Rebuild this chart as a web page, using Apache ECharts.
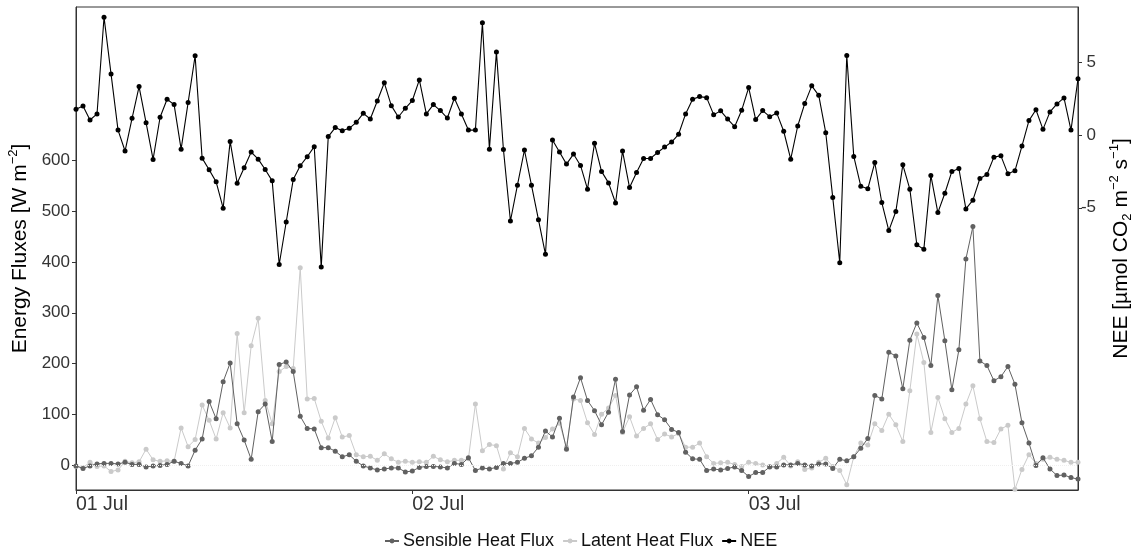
<!DOCTYPE html>
<html><head><meta charset="utf-8">
<script src="https://cdn.jsdelivr.net/npm/echarts@6/dist/echarts.min.js"></script>
<style>html,body{margin:0;padding:0;background:#fff}#c{width:1137px;height:553px}</style>
</head><body><div id="c"></div>
<script>
const dayLabels = ['01 Jul', '02 Jul', '03 Jul'];
const slotsPerDay = 48;
const energyTicks = [0, 100, 200, 300, 400, 500, 600];
const neeTicks = [-5, 0, 5];

const nee = [
  1.77, 2.0, 1.03, 1.45, 8.1, 4.2, 0.34, -1.1, 1.15, 3.33, 0.85, -1.68, 1.22, 2.46, 2.09, -0.97,
  2.23, 5.45, -1.59, -2.39, -3.22, -5.03, -0.44, -3.31, -2.25, -1.17, -1.66, -2.37, -3.15, -8.9, -5.98, -3.06,
  -2.11, -1.49, -0.8, -9.08, -0.11, 0.51, 0.3, 0.46, 0.87, 1.49, 1.1, 2.34, 3.59, 2.02, 1.24, 1.84,
  2.37, 3.79, 1.45, 2.09, 1.68, 1.17, 2.53, 1.45, 0.34, 0.34, 7.72, -0.97, 5.7, -0.99, -5.91, -3.45,
  -1.03, -3.45, -5.82, -8.2, -0.34, -1.17, -2.0, -1.31, -2.09, -3.72, -0.57, -2.5, -3.29, -4.67, -1.1, -3.61,
  -2.57, -1.61, -1.61, -1.2, -0.83, -0.48, 0.05, 1.45, 2.46, 2.64, 2.57, 1.4, 1.66, 1.1, 0.57, 1.7,
  3.26, 1.06, 1.68, 1.26, 1.52, 0.26, -1.66, 0.62, 2.16, 3.38, 2.73, 0.16, -4.3, -8.78, 5.47, -1.47,
  -3.52, -3.7, -1.89, -4.64, -6.57, -5.26, -2.05, -3.72, -7.54, -7.86, -2.78, -5.33, -4.0, -2.5, -2.3, -5.08,
  -4.48, -2.99, -2.71, -1.52, -1.43, -2.67, -2.46, -0.76, 0.99, 1.74, 0.39, 1.59, 2.14, 2.55, 0.34, 3.86
];

const sensible = [
  -2, -7, -2, 2, 3, 3, 2, 5, 1, 1, -4, -2, -1, 1, 7, 3,
  -2, 29, 51, 125, 91, 164, 201, 81, 49, 11, 105, 120, 46, 198, 203, 184,
  96, 72, 71, 34, 34, 27, 16, 20, 7, -2, -6, -10, -8, -6, -6, -14,
  -12, -5, -3, -3, -4, -6, 3, 1, 14, -11, -6, -8, -5, 3, 3, 5,
  13, 18, 35, 67, 55, 92, 31, 134, 172, 127, 107, 79, 104, 169, 66, 138,
  154, 108, 129, 99, 89, 70, 64, 25, 12, 11, -11, -8, -10, -7, -4, -11,
  -23, -15, -15, -4, -4, 0, 0, 3, 0, -2, 2, 2, -7, 11, 8, 16,
  33, 52, 137, 130, 222, 215, 150, 246, 280, 251, 196, 334, 245, 148, 227, 406,
  470, 205, 196, 166, 174, 194, 159, 83, 43, -1, 14, -8, -21, -20, -25, -28
];

const latent = [
  -3, -5, 5, -3, -2, -13, -10, 7, 4, 6, 31, 10, 7, 8, 7, 73,
  36, 50, 118, 88, 51, 103, 73, 259, 103, 235, 289, 127, 81, 184, 194, 190,
  389, 130, 131, 86, 53, 93, 55, 58, 20, 16, 17, 9, 22, 12, 5, 7,
  5, 6, 5, 17, 10, 6, 9, 9, 12, 120, 28, 40, 38, -8, 24, 16,
  72, 51, 43, 54, 71, 82, 35, 130, 127, 83, 60, 100, 112, 137, 64, 95,
  57, 72, 81, 50, 61, 55, 62, 35, 35, 43, 16, 3, 4, 5, 1, -3,
  5, 3, 0, -3, 3, 15, -2, 6, -9, -6, 5, 13, -3, -11, -39, 16,
  43, 39, 81, 68, 100, 79, 46, 146, 258, 202, 64, 133, 91, 64, 72, 120,
  156, 91, 46, 44, 71, 78, -48, -9, 20, 3, 11, 15, 11, 9, 5, 5
];

const categories = [];
dayLabels.forEach(function (d) {
  for (let h = 0; h < slotsPerDay; h++) {
    const hh = String(Math.floor(h / 2)).padStart(2, '0');
    categories.push(d + ' ' + hh + ':' + (h % 2 ? '30' : '00'));
  }
});

const FONT = 'Liberation Sans, Arial, Helvetica, sans-serif';
const isDayStart = function (i) { return i % slotsPerDay === 0; };

const chart = echarts.init(document.getElementById('c'), null, { renderer: 'canvas' });
chart.setOption({
  animation: false,
  backgroundColor: '#ffffff',
  textStyle: { fontFamily: FONT },
  grid: {
    left: 76, right: 59, top: 7, bottom: 63,
    outerBoundsMode: 'none', containLabel: false,
    show: true, borderColor: '#333', borderWidth: 1, backgroundColor: 'transparent'
  },
  legend: {
    data: ['Sensible Heat Flux', 'Latent Heat Flux', 'NEE'],
    left: 379, top: 527,
    itemWidth: 14, itemHeight: 6, itemGap: 8,
    textStyle: { fontFamily: FONT, fontSize: 18, color: '#111', padding: [0, 0, 0, -1] }
  },
  xAxis: {
    type: 'category',
    data: categories,
    boundaryGap: false,
    axisLine: { show: true, onZero: false, lineStyle: { color: '#333', width: 1 } },
    axisTick: { show: true, interval: isDayStart, length: 4, lineStyle: { color: '#333' } },
    axisLabel: {
      interval: isDayStart,
      formatter: function (v) { return v.slice(0, 6); },
      align: 'left', fontSize: 19.5, color: '#333', margin: 5, fontFamily: FONT
    },
    splitLine: { show: false }
  },
  yAxis: [
    {
      type: 'value', position: 'left', min: -49.5, max: 903,
      splitLine: { show: false },
      axisLine: { show: true, onZero: false, lineStyle: { color: '#333', width: 1 } },
      axisTick: { show: true, length: 4, customValues: energyTicks, lineStyle: { color: '#333' } },
      axisLabel: { customValues: energyTicks, fontSize: 17, color: '#333', margin: 6, fontFamily: FONT },
      name: '{t|Energy Fluxes [W m}{s|−2}{t|]}',
      nameLocation: 'middle', nameGap: 34,
      nameTextStyle: {
        rich: {
          t: { fontSize: 21, fontFamily: FONT, color: '#000', lineHeight: 26, verticalAlign: 'middle' },
          s: { fontSize: 13, fontFamily: FONT, color: '#000', lineHeight: 13, verticalAlign: 'top' }
        }
      }
    },
    {
      type: 'value', position: 'right', min: -24.4, max: 8.8,
      splitLine: { show: false },
      axisLine: { show: true, onZero: false, lineStyle: { color: '#333', width: 1 } },
      axisTick: { show: true, length: 4, customValues: neeTicks, lineStyle: { color: '#333' } },
      axisLabel: { customValues: neeTicks, fontSize: 17, color: '#333', margin: 18, align: 'right', fontFamily: FONT,
        formatter: function (v) { return String(v); } },
      name: '{t|NEE [µmol CO}{b|2}{t| m}{s|−2}{t| s}{s|−1}{t|]}',
      nameLocation: 'middle', nameGap: 30,
      nameTextStyle: {
        rich: {
          t: { fontSize: 21, fontFamily: FONT, color: '#000', lineHeight: 26, verticalAlign: 'middle' },
          s: { fontSize: 13, fontFamily: FONT, color: '#000', lineHeight: 13, verticalAlign: 'top' },
          b: { fontSize: 13, fontFamily: FONT, color: '#000', lineHeight: 13, verticalAlign: 'bottom' }
        }
      }
    }
  ],
  series: [
    {
      name: 'Latent Heat Flux', type: 'line', yAxisIndex: 0, data: latent,
      symbol: 'circle', symbolSize: 5, showSymbol: true, showAllSymbol: true,
      itemStyle: { color: '#cacaca' }, lineStyle: { color: '#cacaca', width: 1 }, z: 2
    },
    {
      name: 'Sensible Heat Flux', type: 'line', yAxisIndex: 0, data: sensible,
      symbol: 'circle', symbolSize: 5, showSymbol: true, showAllSymbol: true,
      itemStyle: { color: '#616161' }, lineStyle: { color: '#616161', width: 1 }, z: 3,
      markLine: {
        silent: true, symbol: ['none', 'none'], label: { show: false },
        lineStyle: { color: '#efefef', type: 'dotted', width: 1 },
        data: [{ yAxis: 0 }]
      }
    },
    {
      name: 'NEE', type: 'line', yAxisIndex: 1, data: nee,
      symbol: 'circle', symbolSize: 5, showSymbol: true, showAllSymbol: true,
      itemStyle: { color: '#000000' }, lineStyle: { color: '#000000', width: 1.1 }, z: 4
    }
  ]
});
</script>
</body></html>
